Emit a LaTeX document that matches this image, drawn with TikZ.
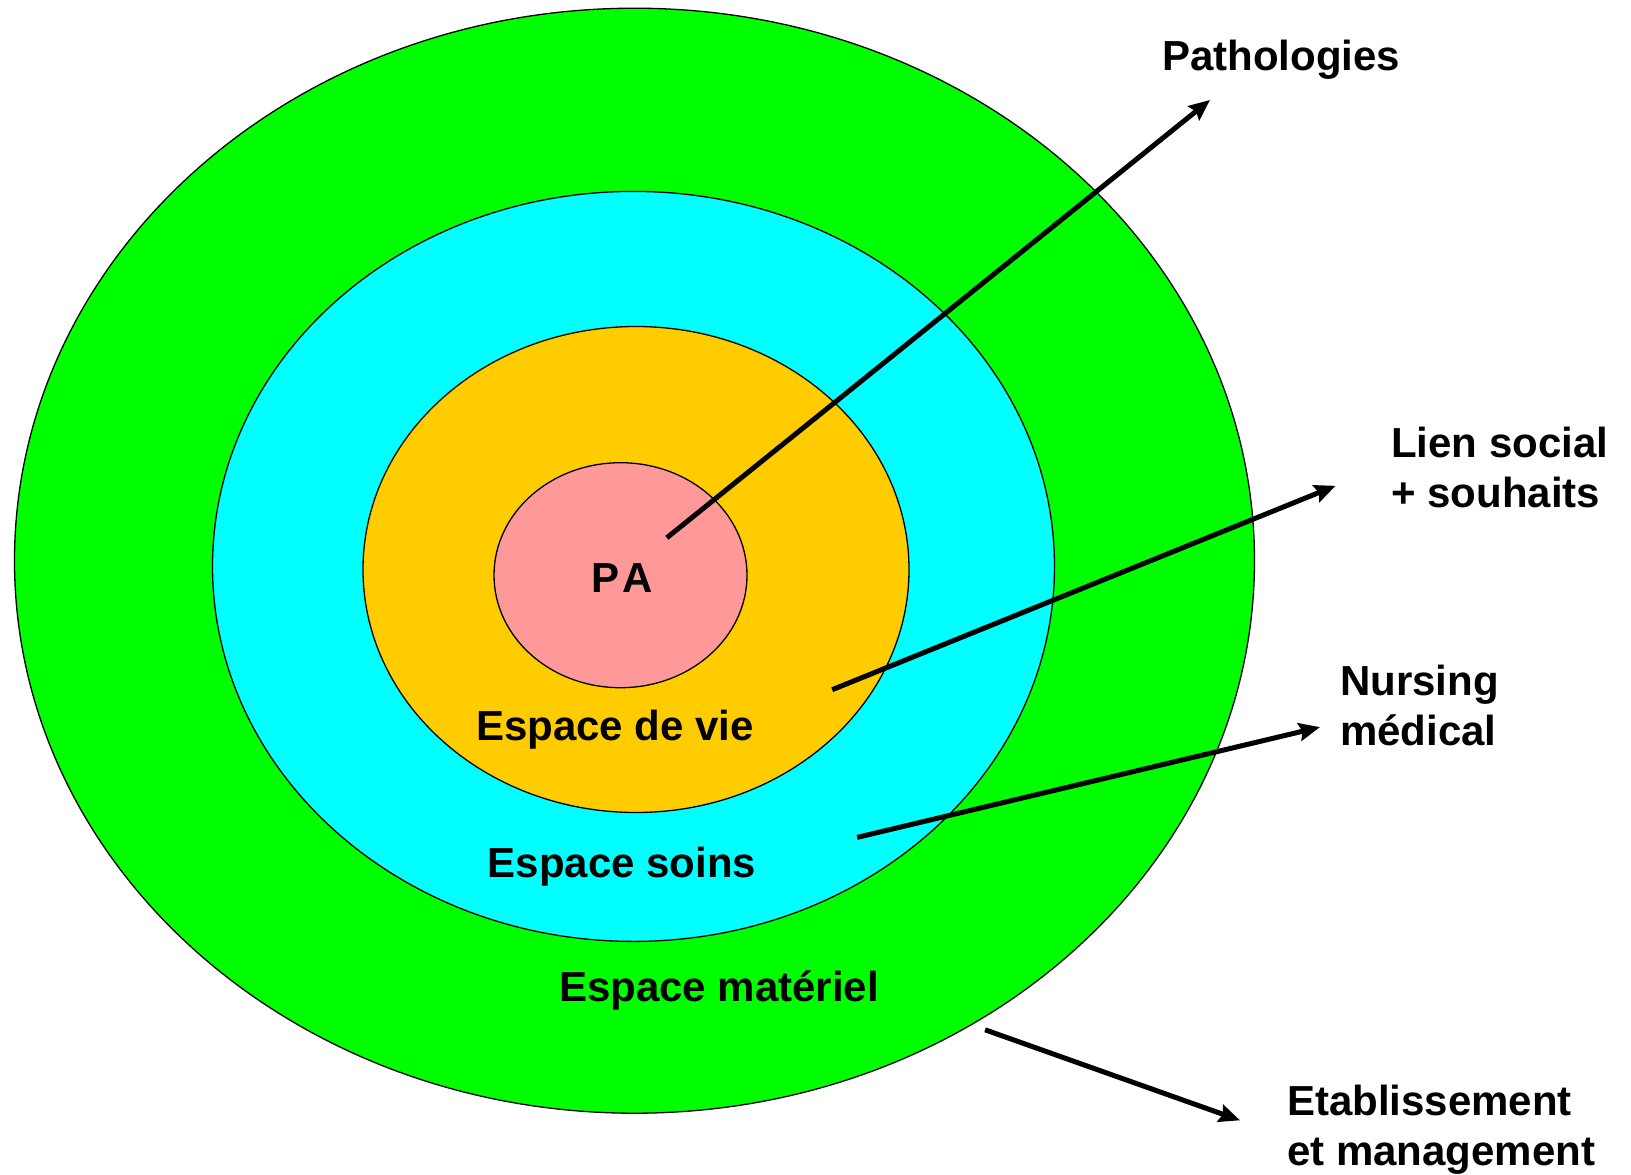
\documentclass[tikz,border=0pt]{standalone}
\usepackage{fontspec}
\setmainfont{Liberation Sans}
\usetikzlibrary{shapes.geometric,arrows.meta}
\definecolor{cgreen}{HTML}{00FF00}
\definecolor{ccyan}{HTML}{00FFFF}
\definecolor{corange}{HTML}{FFCC00}
\definecolor{cpink}{HTML}{FF9999}
\tikzset{
  ring/.style={ellipse, draw=black, line width=1.3pt, inner sep=0pt},
  lbl/.style={font=\fontsize{42}{50}\selectfont\bfseries, inner sep=0pt},
  side/.style={lbl, anchor=base west, align=left},
  conn/.style={line width=5pt, -{Stealth[length=21pt,width=18pt,inset=3pt]}}
}
\begin{document}
\begin{tikzpicture}[x=1pt,y=-1pt]
\useasboundingbox (0,0) rectangle (1631,1175);
\node[ring, fill=cgreen, minimum width=1240pt, minimum height=1105pt] (green) at (634.5,560.7) {};
\node[ring, fill=ccyan, minimum width=842pt, minimum height=750pt] (cyan) at (633.5,566.4) {};
\node[ring, fill=corange, minimum width=546pt, minimum height=486pt] (orange) at (636,569.5) {};
\node[ring, fill=cpink, minimum width=253pt, minimum height=225pt] (pink) at (620.5,575.2) {};

\node[lbl, anchor=base] (pa) at (622,592) {P\kern3pt A};
\node[lbl, anchor=base] (vie) at (615,740) {Espace de vie};
\node[lbl, anchor=base] (soins) at (622,877) {Espace soins};
\node[lbl, anchor=base] (mat) at (719,1001) {Espace matériel};

\node[side] (patho) at (1162,70) {Pathologies};
\node[side] (lien) at (1391,507) {Lien social\\+ souhaits};
\node[side] (nurs) at (1340,745) {Nursing\\médical};
\node[side] (etab) at (1287,1165) {Etablissement\\et management};

\coordinate (s1) at (666.8,537.8);
\coordinate (t1) at (1210,100);
\coordinate (s2) at (832.2,689.7);
\coordinate (t2) at (1335.6,485.8);
\coordinate (s3) at (857.1,837.4);
\coordinate (t3) at (1320,727.1);
\coordinate (s4) at (985.1,1029.8);
\coordinate (t4) at (1240,1120.3);

\draw[conn] (s1) -- (t1);
\draw[conn] (s2) -- (t2);
\draw[conn] (s3) -- (t3);
\draw[conn] (s4) -- (t4);
\end{tikzpicture}
\end{document}
